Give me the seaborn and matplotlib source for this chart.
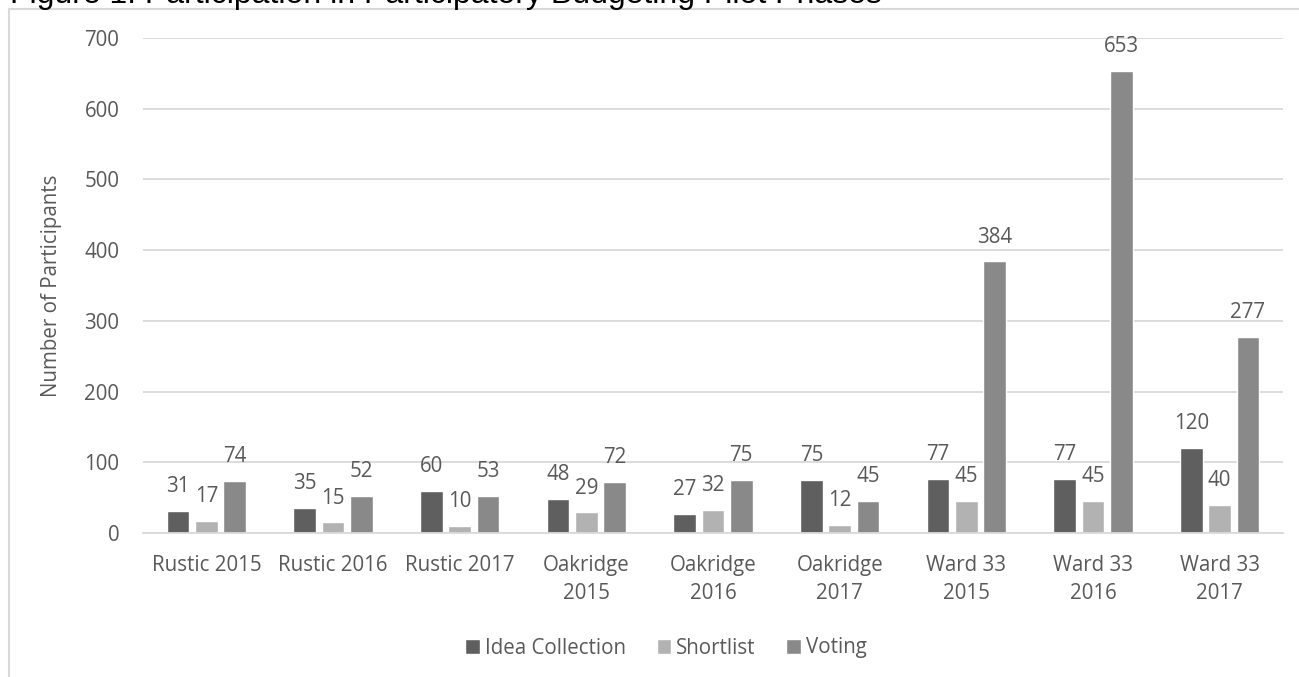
import matplotlib
matplotlib.use("Agg")
import matplotlib.pyplot as plt
import seaborn as sns
import pandas as pd
from matplotlib.patches import Rectangle

categories = ["Rustic 2015", "Rustic 2016", "Rustic 2017", "Oakridge\n2015", "Oakridge\n2016",
              "Oakridge\n2017", "Ward 33\n2015", "Ward 33\n2016", "Ward 33\n2017"]
phases = ["Idea Collection", "Shortlist", "Voting"]
idea_collection = [31, 35, 60, 48, 27, 75, 77, 77, 120]
shortlist = [17, 15, 10, 29, 32, 12, 45, 45, 40]
voting = [74, 52, 53, 72, 75, 45, 384, 653, 277]
colors = ["#5f5f5f", "#b2b2b2", "#898989"]
yticks = [0, 100, 200, 300, 400, 500, 600, 700]

rows = []
for ph, vals in zip(phases, [idea_collection, shortlist, voting]):
    for c, v in zip(categories, vals):
        rows.append({"Category": c, "Phase": ph, "Participants": v})
df = pd.DataFrame(rows)

sns.set_theme(style="white")
plt.rcParams["font.family"] = ["Open Sans", "DejaVu Sans"]
txt = "#595959"
fs = 14.8

fig = plt.figure(figsize=(12.99, 6.77), dpi=100)
ax = fig.add_axes([143/1299, 1-533/677, 1140/1299, (533-38)/677])

sns.barplot(data=df, x="Category", y="Participants", hue="Phase", order=categories,
            hue_order=phases, palette=colors, width=0.67, gap=0.2, saturation=1,
            errorbar=None, ax=ax, legend=True)

for cont in ax.containers:
    ax.bar_label(cont, padding=10, fontsize=fs, color=txt)

ax.set_ylim(0, 700)
ax.set_yticks(yticks)
ax.set_xlim(-0.5, len(categories) - 0.5)
ax.yaxis.grid(True, color="#d9d9d9", linewidth=1.3)
ax.set_axisbelow(True)
for s in ["top", "right", "left"]:
    ax.spines[s].set_visible(False)
ax.spines["bottom"].set_color("#d9d9d9")
ax.spines["bottom"].set_linewidth(1.3)
ax.tick_params(axis="both", length=0, labelsize=fs, colors=txt)
ax.tick_params(axis="y", pad=17)
ax.tick_params(axis="x", pad=16)
for lab in ax.get_xticklabels():
    lab.set_linespacing(1.4)
ax.set_xlabel("")
ax.set_ylabel("Number of Participants", fontsize=fs, color=txt)
ax.yaxis.set_label_coords((62-143)/1140, 0.5)

handles, labels = ax.get_legend_handles_labels()
ax.get_legend().remove()
fig.legend(handles, labels, loc="center", bbox_to_anchor=(666/1299, 1-648/677), ncol=3,
           frameon=False, fontsize=fs, labelcolor=txt, handlelength=0.7, handleheight=0.7,
           handletextpad=0.25, columnspacing=1.5)

fig.patches.append(Rectangle((9/1299, -0.2), 1.2, 1.2 - 9/677, transform=fig.transFigure,
                             fill=False, edgecolor="#d9d9d9", linewidth=1.5))
fig.text(10/1299, 1-3.5/677, "Figure 1: Participation in Participatory Budgeting Pilot Phases",
         ha="left", va="baseline", fontsize=23, family=["Liberation Sans"], color="black")

fig.savefig("out.png", dpi=100)
